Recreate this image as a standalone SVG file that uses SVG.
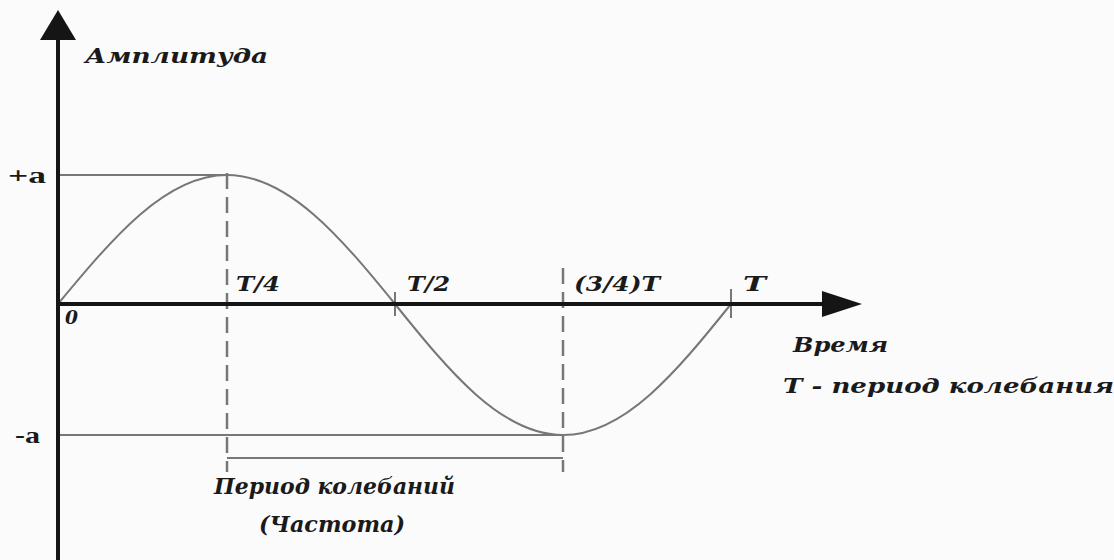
<svg xmlns="http://www.w3.org/2000/svg" width="1114" height="560" viewBox="0 0 1114 560">
<style>
.lbl{font-family:"DejaVu Serif","Liberation Serif",serif;font-weight:bold;font-style:italic;fill:#1a1a1a}
.val{font-family:"Liberation Serif","Times New Roman",serif;font-weight:bold;fill:#1a1a1a}
.thin{stroke:#777;stroke-width:2;fill:none}
.dash{stroke:#777;stroke-width:2.5;fill:none;stroke-dasharray:16 8}
.axis{stroke:#151515;stroke-width:4;fill:none}
</style>
<rect width="1114" height="560" fill="#fbfbfb"/>
<g id="guides">
<line class="thin" x1="58" y1="175" x2="227" y2="175"/>
<line class="thin" x1="58" y1="435" x2="563" y2="435"/>
<line class="dash" x1="227" y1="173" x2="227" y2="472"/>
<line class="dash" x1="563" y1="268" x2="563" y2="472"/>
<line class="thin" x1="227" y1="458" x2="563" y2="458"/>
<line class="thin" x1="395" y1="292" x2="395" y2="316"/>
<line class="thin" x1="731" y1="289" x2="731" y2="318"/>
</g>
<g id="wave">
<path class="thin" d="M58,304 C112.9,237.9 165.3,175 227,175 C288.7,175 341.1,237.9 395,304 C448.9,371.1 501.3,435 563,435 C624.7,435 677.1,371.1 731,304"/>
</g>
<g id="axes">
<line class="axis" x1="58" y1="560" x2="58" y2="36"/>
<polygon points="58,10 40,40 76,40" fill="#151515"/>
<line class="axis" x1="58" y1="304" x2="826" y2="304"/>
<polygon points="862,304 822,291 822,317" fill="#151515"/>
</g>
<g id="labels">
<text class="lbl" x="85" y="63" font-size="21" textLength="183" lengthAdjust="spacingAndGlyphs">Амплитуда</text>
<text class="val" x="8" y="183" font-size="23" textLength="38" lengthAdjust="spacingAndGlyphs">+a</text>
<text class="val" x="15" y="443" font-size="23" textLength="25" lengthAdjust="spacingAndGlyphs">-a</text>
<text class="lbl" x="65" y="324" font-size="18" textLength="13" lengthAdjust="spacingAndGlyphs">0</text>
<text class="lbl" x="236" y="291" font-size="20" textLength="44" lengthAdjust="spacingAndGlyphs">T/4</text>
<text class="lbl" x="407" y="291" font-size="20" textLength="43" lengthAdjust="spacingAndGlyphs">T/2</text>
<text class="lbl" x="574" y="291" font-size="20" textLength="86" lengthAdjust="spacingAndGlyphs">(3/4)T</text>
<text class="lbl" x="743" y="291" font-size="20" textLength="23" lengthAdjust="spacingAndGlyphs">T</text>
<text class="lbl" x="793" y="352" font-size="20" textLength="95" lengthAdjust="spacingAndGlyphs">Время</text>
<text class="lbl" x="783" y="393" font-size="21" textLength="331" lengthAdjust="spacingAndGlyphs">T - период колебания</text>
<text class="lbl" x="214" y="494" font-size="22" textLength="241" lengthAdjust="spacingAndGlyphs">Период колебаний</text>
<text class="lbl" x="259" y="532" font-size="22" textLength="146" lengthAdjust="spacingAndGlyphs">(Частота)</text>
</g>
</svg>
